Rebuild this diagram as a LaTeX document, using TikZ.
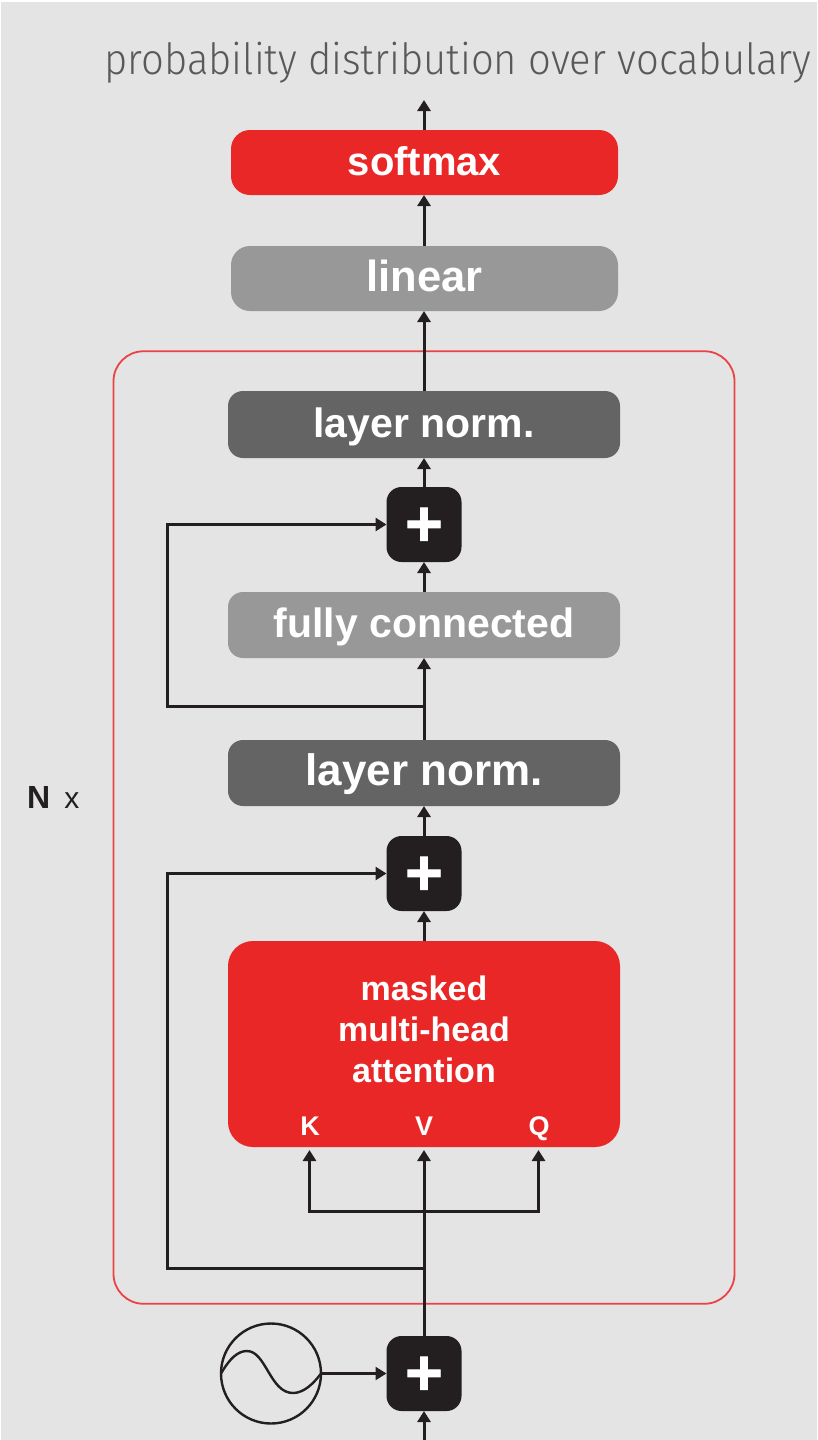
\documentclass[tikz,border=0pt]{standalone}
\usepackage{fontspec}
\setmainfont{Liberation Sans}
\newfontfamily\lightfont[FakeStretch=0.93]{Fira Sans Light}
\newfontfamily\plusfont[FakeBold=1.2]{Liberation Sans}
\usetikzlibrary{arrows.meta}
\definecolor{bgc}{HTML}{E4E4E4}
\definecolor{redc}{HTML}{E92726}
\definecolor{darkc}{HTML}{636463}
\definecolor{midc}{HTML}{979897}
\definecolor{blackc}{HTML}{231F20}
\definecolor{framec}{HTML}{EA4245}
\definecolor{textc}{HTML}{58595B}
\tikzset{
  x=1pt,y=-1pt,
  boxnode/.style={rounded corners=15pt,minimum width=392pt,minimum height=66pt,inner sep=0pt,outer sep=0pt,text=white,
    font=\bfseries\fontsize{41}{41}\selectfont,text height=33pt,text depth=8pt},
  plusnode/.style={fill=blackc,rounded corners=15pt,minimum size=75pt,inner sep=0pt,outer sep=0pt,text=white,
    font=\plusfont\bfseries\fontsize{65}{65}\selectfont},
  wire/.style={draw=blackc,line width=3pt,-{Triangle[length=11pt,width=13pt]}},
  thinwire/.style={draw=blackc,line width=2.2pt,-{Triangle[length=11pt,width=13pt]}},
  whitelabel/.style={text=white,font=\bfseries\fontsize{34}{34}\selectfont,anchor=base,inner sep=0pt},
  portlabel/.style={text=white,font=\bfseries\fontsize{27}{27}\selectfont,anchor=base,inner sep=0pt},
}
\newcommand{\plussign}{\smash{\raisebox{-0.33em}{+}}}
\begin{document}
\begin{tikzpicture}
\useasboundingbox (0,0) rectangle (817,1440);
\fill[white] (0,0) rectangle (817,1440);
\fill[bgc] (1,2) rectangle (817,1440);
\node[rounded corners=30pt,draw=framec,line width=1.8pt,minimum width=621pt,minimum height=952.5pt,inner sep=0pt,outer sep=0pt] (frame) at (424,827.5) {};
\node[text=textc,anchor=base,inner sep=0pt,font=\lightfont\fontsize{43}{43}\selectfont] (title) at (458,74) {probability distribution over vocabulary};
\node[boxnode,fill=redc,rounded corners=19pt,minimum width=387pt,minimum height=65pt,font=\bfseries\fontsize{40}{40}\selectfont] (softmax) at (424.5,162.5) {softmax};
\node[boxnode,fill=midc,rounded corners=19pt,minimum width=387pt,minimum height=65pt,font=\bfseries\fontsize{43.5}{43.5}\selectfont] (linear) at (424.5,278.5) {linear};
\node[boxnode,fill=darkc,minimum height=67pt] (norma) at (424,424.5) {layer norm.};
\node[plusnode] (plusa) at (424,524.5) {\plussign};
\node[boxnode,fill=midc] (fc) at (424,625) {fully connected};
\node[boxnode,fill=darkc,font=\bfseries\fontsize{44}{44}\selectfont] (normb) at (424,773) {layer norm.};
\node[plusnode] (plusb) at (424,873.5) {\plussign};
\node[boxnode,fill=redc,rounded corners=25pt,minimum height=206pt] (attn) at (424,1044) {};
\node[whitelabel] (l1) at (424,1000) {masked};
\node[whitelabel] (l2) at (424,1041) {multi-head};
\node[whitelabel] (l3) at (424,1082) {attention};
\node[portlabel] (portk) at (310,1135) {K};
\node[portlabel] (portv) at (424,1135) {V};
\node[portlabel] (portq) at (539,1135) {Q};
\node[plusnode] (plusc) at (424,1373.5) {\plussign};
\node[circle,draw=blackc,line width=2.4pt,minimum size=100pt,inner sep=0pt,outer sep=0pt] (wave) at (271,1373.5) {};
\draw[blackc,line width=2.4pt] (wave.west) .. controls (230,1358) and (238,1351) .. (247,1351)
  .. controls (266,1351) and (270,1393) .. (293,1393) .. controls (304,1393) and (314,1383) .. (wave.east);
\node[anchor=base west,inner sep=0pt,text=blackc] (nx) at (27,808) {\fontsize{32}{32}\selectfont\bfseries N\hspace{14pt}\fontsize{30}{30}\mdseries\selectfont x};
% connectors
\coordinate (top) at (424,100);
\coordinate (bottom) at (424,1440);
\coordinate (atv) at (424,1150);
\coordinate (atk) at (309.5,1150);
\coordinate (atq) at (538.5,1150);
\coordinate (fork) at (424,1211);
\coordinate (tapa) at (424,706);
\coordinate (tapb) at (424,1268);
\coordinate (corna) at (167,706);
\coordinate (cornb) at (167,1268);
\draw[wire] (softmax.north -| top) -- (top);
\draw[wire] (linear.north -| top) -- (softmax.south -| top);
\draw[wire] (norma.north) -- (linear.south -| top);
\draw[wire] (plusa) -- (norma.south);
\draw[wire] (fc.north) -- (plusa.south);
\draw[wire] (normb.north) -- (fc.south);
\draw[wire] (plusb.north) -- (normb.south);
\draw[wire] (attn.north) -- (plusb.south);
\draw[wire] (plusc.north) -- (atv);
\draw[wire] (bottom) -- (plusc.south);
\draw[wire] (fork) -| (atk);
\draw[wire] (fork) -| (atq);
\draw[wire] (tapa) -- (corna) |- (plusa.west);
\draw[wire] (tapb) -- (cornb) |- (plusb.west);
\draw[thinwire] (wave.east) -- (plusc.west);
\end{tikzpicture}
\end{document}
